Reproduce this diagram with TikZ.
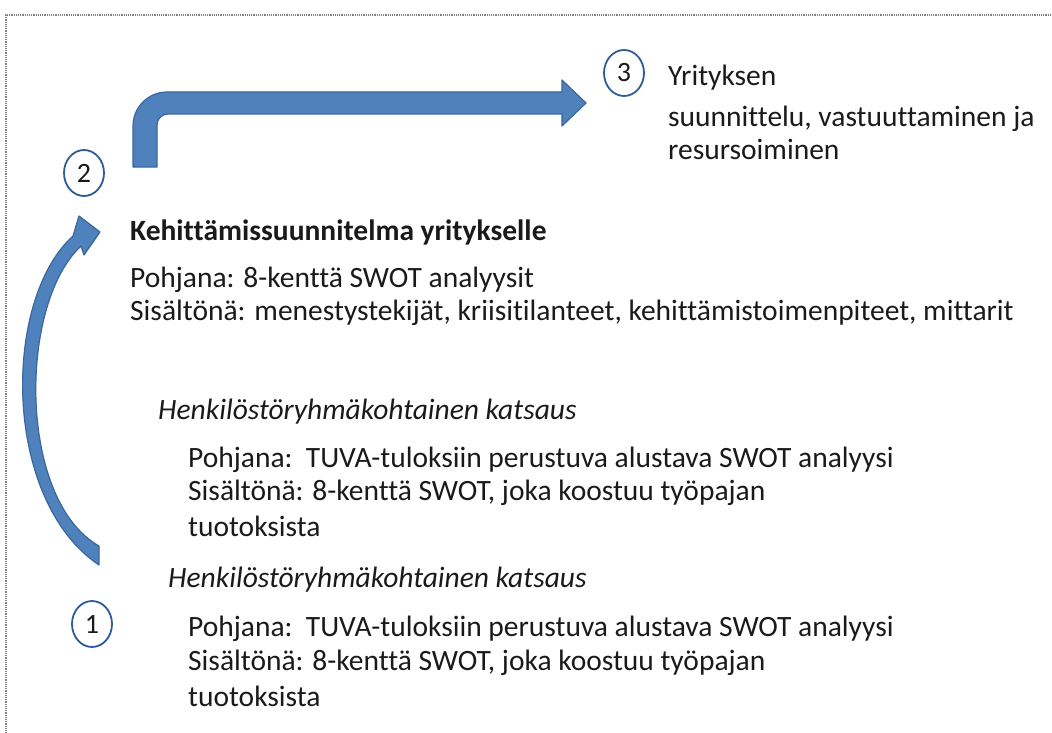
\documentclass[tikz,border=0pt]{standalone}
\usepackage{fontspec}
\setmainfont{Carlito}[Ligatures={TeX,NoCommon}]
\usetikzlibrary{shapes.geometric}
\definecolor{arrowfill}{HTML}{4F81BD}
\definecolor{arrowedge}{HTML}{3A679C}
\definecolor{ringblue}{HTML}{2E5C96}
\definecolor{txt}{HTML}{1A1A1A}
\begin{document}
\begin{tikzpicture}[x=1pt,y=-1pt,
  txtline/.style={anchor=base west,inner sep=0pt,text=txt,font=\fontsize{29.5}{34}\selectfont},
  stepnum/.style={draw=ringblue,line width=1.8pt,ellipse,minimum width=40pt,minimum height=46pt,inner sep=0pt,
    font=\fontsize{28}{32}\selectfont,text=txt},
  bigarrow/.style={fill=arrowfill,draw=arrowedge,line width=1.2pt,line join=round}]
\useasboundingbox (0,0) rectangle (1052,733);
% frame (only the top and left edges fall inside the page)
\draw[gray,densely dotted,line width=1.2pt] (6,740) -- (6,15) -- (1060,15);

% numbered markers
\node[stepnum] (n3) at (624,73) {3};
\node[stepnum] (n2) at (84,173) {2};
\node[stepnum] (n1) at (92,624) {1};

% bent arrow from the plan to stage 3
\coordinate (benttip) at (586,103);
\draw[bigarrow] (133,167) -- (133,126) arc[start angle=180,end angle=270,radius=34]
  -- (562,92) -- (562,80) -- (benttip) -- (562,126) -- (562,114)
  -- (168,114) arc[start angle=270,end angle=180,radius=11] -- (157,167) -- cycle;

% curved arrow from stage 1 to the plan
\coordinate (curvetip) at (100,232);
\draw[bigarrow] (99,565) .. controls (2,500) and (2,300) .. (73,236)
  -- (79,216) -- (curvetip) -- (84,255) -- (81,246)
  .. controls (18,305) and (18,500) .. (99,546) -- cycle;

% stage 3
\node[txtline] (t3a) at (668,86) {Yrityksen};
\node[txtline] (t3b) at (668,127) {suunnittelu, vastuuttaminen ja};
\node[txtline] (t3c) at (668,160) {resursoiminen};

% development plan
\node[txtline,font=\fontsize{29.5}{34}\selectfont\bfseries] (p0) at (130,240) {Kehittämissuunnitelma yritykselle};
\node[txtline] (p1) at (130,287) {Pohjana: 8-kenttä SWOT analyysit};
\node[txtline] (p2) at (130,320) {Sisältönä: menestystekijät, kriisitilanteet, kehittämistoimenpiteet, mittarit};

% upper group review
\node[txtline,font=\fontsize{29.5}{34}\selectfont\itshape] (a0) at (158,419) {Henkilöstöryhmäkohtainen katsaus};
\node[txtline] (a1) at (188,467) {Pohjana:\ \ TUVA-tuloksiin perustuva alustava SWOT analyysi};
\node[txtline] (a2) at (188,500) {Sisältönä: 8-kenttä SWOT, joka koostuu työpajan};
\node[txtline] (a3) at (188,536) {tuotoksista};

% lower group review
\node[txtline,font=\fontsize{29.5}{34}\selectfont\itshape] (b0) at (168,587) {Henkilöstöryhmäkohtainen katsaus};
\node[txtline] (b1) at (188,636) {Pohjana:\ \ TUVA-tuloksiin perustuva alustava SWOT analyysi};
\node[txtline] (b2) at (188,670) {Sisältönä: 8-kenttä SWOT, joka koostuu työpajan};
\node[txtline] (b3) at (188,706) {tuotoksista};
\end{tikzpicture}
\end{document}
